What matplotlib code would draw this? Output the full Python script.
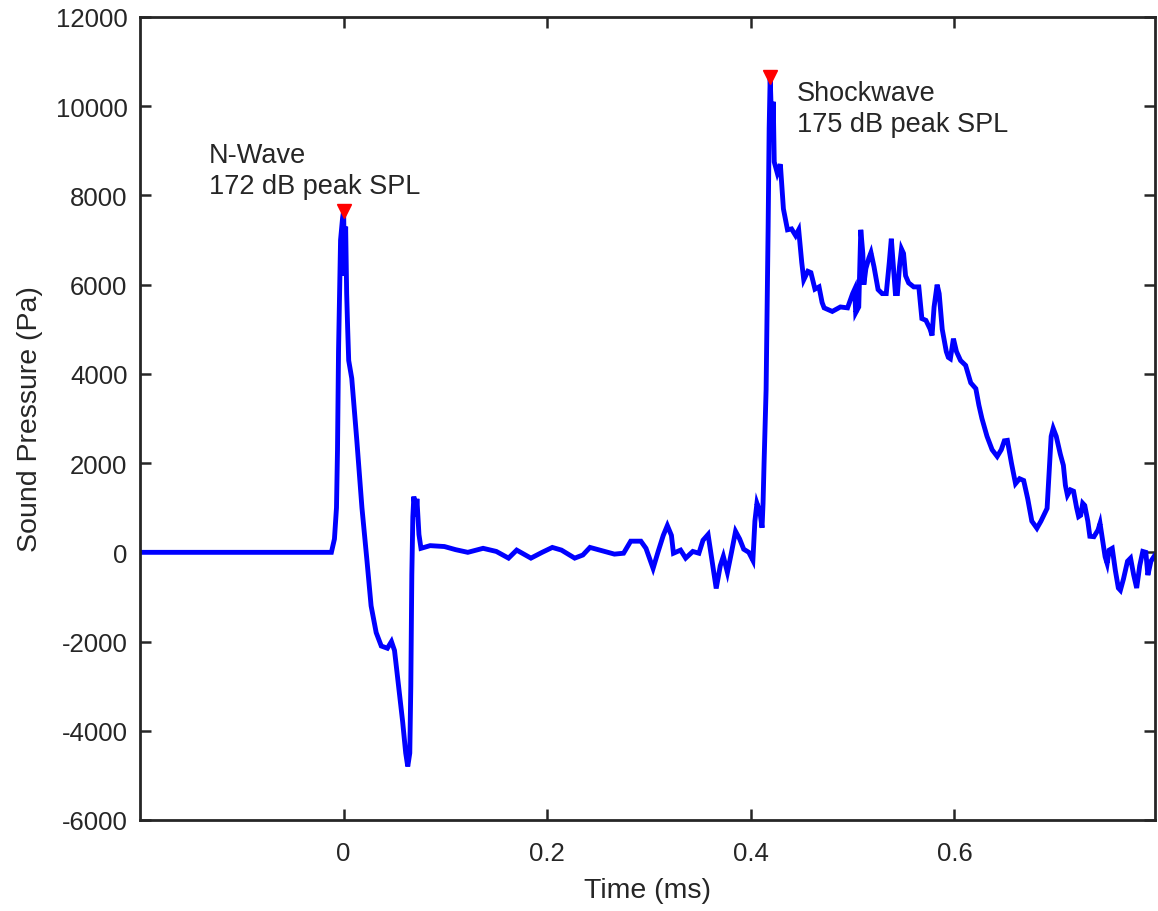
import numpy as np
import matplotlib
matplotlib.use("Agg")
import matplotlib.pyplot as plt

# Pressure trace (time in ms, pressure in Pa)
time_ms = [-0.2, -0.03, -0.012, -0.009, -0.007, -0.006, -0.005, -0.003, -0.001, 0.0,
           0.001, 0.002, 0.003, 0.004, 0.005, 0.008, 0.013, 0.018, 0.023, 0.027,
           0.032, 0.037, 0.043, 0.047, 0.050, 0.054, 0.058, 0.061, 0.063, 0.065,
           0.066, 0.067, 0.068, 0.069, 0.071, 0.072, 0.074, 0.076, 0.085, 0.099,
           0.110, 0.122, 0.137, 0.150, 0.162, 0.170, 0.184, 0.195, 0.205, 0.214,
           0.227, 0.235, 0.242, 0.255, 0.266, 0.275, 0.282, 0.292, 0.297, 0.304,
           0.309, 0.314, 0.318, 0.322, 0.324, 0.331, 0.336, 0.343, 0.349, 0.353,
           0.358, 0.362, 0.366, 0.370, 0.373, 0.377, 0.381, 0.385, 0.389, 0.393,
           0.398, 0.402, 0.404, 0.406, 0.409, 0.411, 0.412, 0.413, 0.415, 0.417,
           0.418, 0.419, 0.421, 0.422, 0.423, 0.426, 0.429, 0.432, 0.436, 0.440,
           0.444, 0.447, 0.450, 0.452, 0.456, 0.459, 0.463, 0.467, 0.470, 0.472,
           0.480, 0.488, 0.495, 0.500, 0.502, 0.503, 0.506, 0.508, 0.510, 0.511,
           0.513, 0.516, 0.518, 0.521, 0.525, 0.529, 0.533, 0.536, 0.538, 0.540,
           0.542, 0.544, 0.546, 0.548, 0.550, 0.552, 0.555, 0.560, 0.565, 0.568,
           0.572, 0.576, 0.578, 0.580, 0.583, 0.585, 0.588, 0.592, 0.594, 0.596,
           0.599, 0.602, 0.606, 0.611, 0.616, 0.621, 0.624, 0.627, 0.632, 0.637,
           0.642, 0.646, 0.649, 0.652, 0.656, 0.660, 0.664, 0.668, 0.672, 0.676,
           0.681, 0.685, 0.691, 0.693, 0.695, 0.697, 0.700, 0.704, 0.707, 0.709,
           0.711, 0.714, 0.717, 0.720, 0.722, 0.724, 0.726, 0.728, 0.731, 0.733,
           0.737, 0.741, 0.743, 0.746, 0.748, 0.750, 0.752, 0.755, 0.758, 0.761,
           0.763, 0.766, 0.770, 0.773, 0.776, 0.779, 0.782, 0.785, 0.788, 0.790,
           0.793, 0.797]
pressure_pa = [0, 0, 0, 300, 1000, 2300, 4500, 7000, 7500, 7650,
               6200, 7300, 5800, 5000, 4300, 3900, 2500, 1000, -200, -1200,
               -1800, -2100, -2150, -2000, -2200, -3000, -3800, -4500, -4800, -4500,
               -3000, -500, 800, 1250, 800, 1200, 400, 90, 150, 130,
               60, 0, 90, 20, -130, 50, -130, 0, 110, 50,
               -130, -60, 110, 30, -40, -20, 250, 250, 90, -360,
               20, 380, 600, 380, -20, 50, -130, 20, -20, 270,
               400, -200, -810, -300, -90, -450, 0, 470, 300, 70,
               0, -180, 700, 1100, 900, 550, 1100, 2000, 3650, 7300,
               9500, 10650, 9200, 10100, 8750, 8500, 8700, 7700, 7230, 7250,
               7100, 7230, 6500, 6110, 6300, 6270, 5900, 5950, 5600, 5480,
               5400, 5500, 5480, 5800, 5900, 5370, 5500, 7230, 6700, 6000,
               6360, 6600, 6720, 6400, 5890, 5800, 5800, 6500, 7030, 6400,
               5800, 5800, 6400, 6800, 6700, 6200, 6040, 5950, 5950, 5240,
               5200, 5010, 4860, 5500, 6000, 5800, 5000, 4500, 4370, 4340,
               4790, 4500, 4300, 4190, 3800, 3670, 3300, 3000, 2600, 2300,
               2150, 2300, 2500, 2510, 2000, 1540, 1650, 1610, 1200, 700,
               540, 700, 985, 1800, 2600, 2780, 2600, 2200, 1950, 1500,
               1280, 1400, 1370, 1000, 800, 830, 1100, 1050, 700, 360,
               350, 500, 650, 200, -100, -250, 50, 90, -400, -800,
               -850, -600, -200, -130, -500, -800, -300, 20, 0, -510,
               -200, -60]

# Detected peaks and their labels
peak_t = [0.0, 0.419]
peak_p = [7650, 10650]
peak_text = ["N-Wave\n172 dB peak SPL", "Shockwave\n175 dB peak SPL"]
text_x = [-0.132, 0.4455]
text_y = [8550, 9940]

x_ticks = [0, 0.2, 0.4, 0.6]
x_ticklabels = ["0", "0.2", "0.4", "0.6"]
y_ticks = np.arange(-6000, 12001, 2000)

plt.rcParams["font.family"] = ["Liberation Sans", "DejaVu Sans"]
plt.rcParams["axes.unicode_minus"] = False
dark = "#262626"

fig = plt.figure(figsize=(11.58, 9.12), dpi=100)
ax = fig.add_axes([140 / 1158, 1 - 821 / 912, 1015 / 1158, 803 / 912])

ax.plot(time_ms, pressure_pa, color="#0000FF", linewidth=3.5, solid_joinstyle="miter")
ax.plot(peak_t, peak_p, linestyle="none", marker="v", color="#FF0000",
        markersize=10, zorder=3)

for tx, ty, s in zip(text_x, text_y, peak_text):
    ax.text(tx, ty, s, ha="left", va="center", fontsize=19.5, color=dark,
            linespacing=1.25)

# Axes and labels
ax.set_xlim(-0.2, 0.797)
ax.set_ylim(-6000, 12000)
ax.set_xticks(x_ticks)
ax.set_xticklabels(x_ticklabels)
ax.set_yticks(y_ticks)
ax.set_xlabel("Time (ms)", fontsize=20.5, color=dark, labelpad=9)
ax.set_ylabel("Sound Pressure (Pa)", fontsize=20.5, color=dark, labelpad=9)

ax.tick_params(axis="both", direction="in", length=8, width=1.8, colors=dark,
               labelsize=18.5, top=True, right=True)
ax.tick_params(axis="x", pad=15)
ax.tick_params(axis="y", pad=9)
for sp in ax.spines.values():
    sp.set_linewidth(2)
    sp.set_color(dark)

plt.savefig("out.png", dpi=100)
